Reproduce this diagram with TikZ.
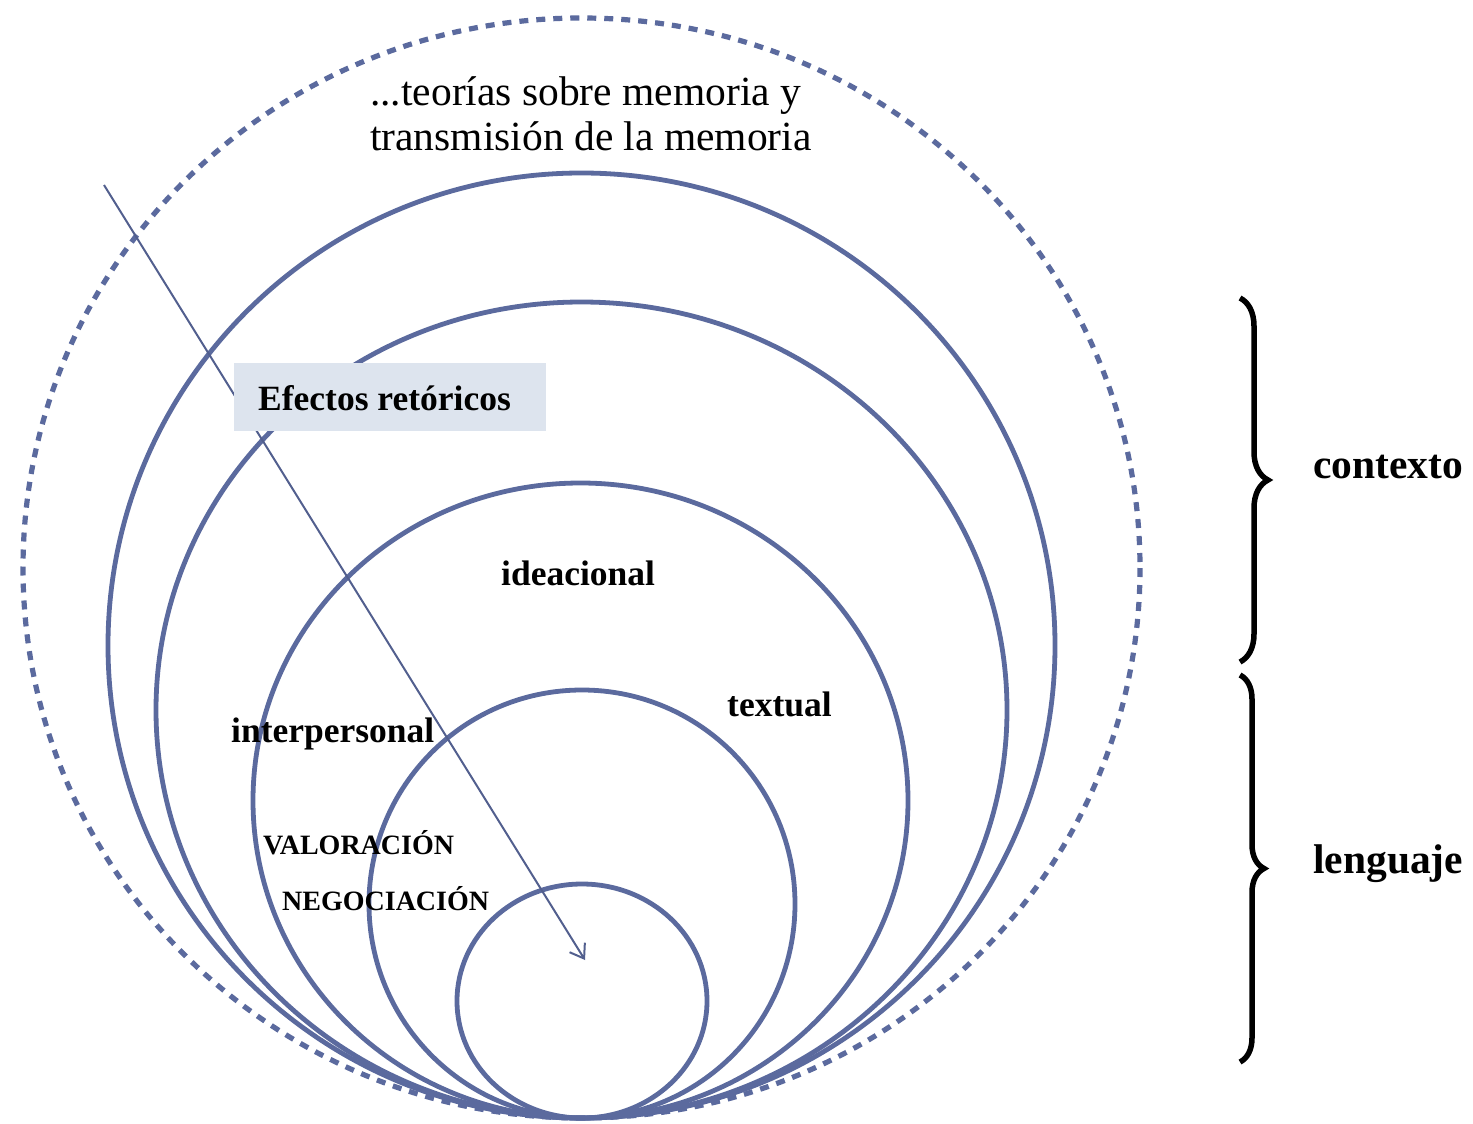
\documentclass[tikz,border=0pt]{standalone}
\usepackage{fontspec}
\setmainfont{Liberation Serif}
\usetikzlibrary{arrows.meta,decorations.pathreplacing}
\definecolor{ringblue}{HTML}{5B6A9E}
\definecolor{boxfill}{HTML}{DDE4EE}
\begin{document}
\begin{tikzpicture}[x=1pt,y=-1pt,
  ring/.style={draw=ringblue,line width=4.8pt},
  outerring/.style={draw=ringblue,line width=5.2pt,dash pattern=on 9pt off 8pt},
  lbl/.style={anchor=base west,inner sep=0pt,font=\fontsize{35.5}{40}\selectfont\bfseries},
  capslbl/.style={anchor=base west,inner sep=0pt,font=\fontsize{28}{32}\selectfont\bfseries},
  sidelbl/.style={anchor=base west,inner sep=0pt,font=\fontsize{41.5}{46}\selectfont\bfseries},
  bracestyle/.style={draw=black,line width=5.5pt,decorate,decoration={brace,amplitude=28pt}},
  pointer/.style={draw=ringblue!90!black,line width=2pt,-{Straight Barb[length=13pt,width=18pt,line width=2pt]}}
]
\useasboundingbox (0,0) rectangle (1473,1124);

% nested rings, all touching at the bottom
\draw[outerring] (581.5,568) ellipse [x radius=558.5, y radius=550];
\draw[ring] (581.5,645.5) ellipse [x radius=473.5, y radius=472.5];
\draw[ring] (581.5,710) ellipse [x radius=425.5, y radius=408];
\draw[ring] (580.5,800.5) ellipse [x radius=327.5, y radius=317.5];
\draw[ring] (582,904) ellipse [x radius=213, y radius=214];
\draw[ring] (582,1001) ellipse [x radius=125, y radius=117];

% diagonal pointer into the innermost ring
\coordinate (pstart) at (104,185);
\coordinate (pend) at (585,960);
\draw[pointer] (pstart) -- (pend);

% shaded label box
\node[fill=boxfill,minimum width=312pt,minimum height=68pt,inner sep=0pt] (efbox) at (390,397) {};
\node[lbl] (efectos) at (258,410) {Efectos retóricos};

% heading at the top of the outer ring (base = last line)
\node[anchor=base west,inner sep=0pt,align=left,font=\fontsize{41.5}{45}\selectfont] (teorias) at (370,150)
  {...teorías sobre memoria y\\transmisión de la memoria};

% ring labels
\node[lbl] (ideacional) at (501,585) {ideacional};
\node[lbl] (textual) at (727,716) {textual};
\node[lbl] (interpersonal) at (231,742) {interpersonal};
\node[capslbl] (valoracion) at (263,854) {VALORACIÓN};
\node[capslbl] (negociacion) at (282,910) {NEGOCIACIÓN};

% braces on the right
\coordinate (ctop) at (1240,298);
\coordinate (cbot) at (1240,662);
\coordinate (ltop) at (1240,675);
\coordinate (lbot) at (1240,1062);
\draw[bracestyle] (ctop) -- (cbot);
\draw[bracestyle,decoration={brace,amplitude=24pt}] (ltop) -- (lbot);
\node[sidelbl] (contexto) at (1313,478) {contexto};
\node[sidelbl] (lenguaje) at (1313,873) {lenguaje};
\end{tikzpicture}
\end{document}
